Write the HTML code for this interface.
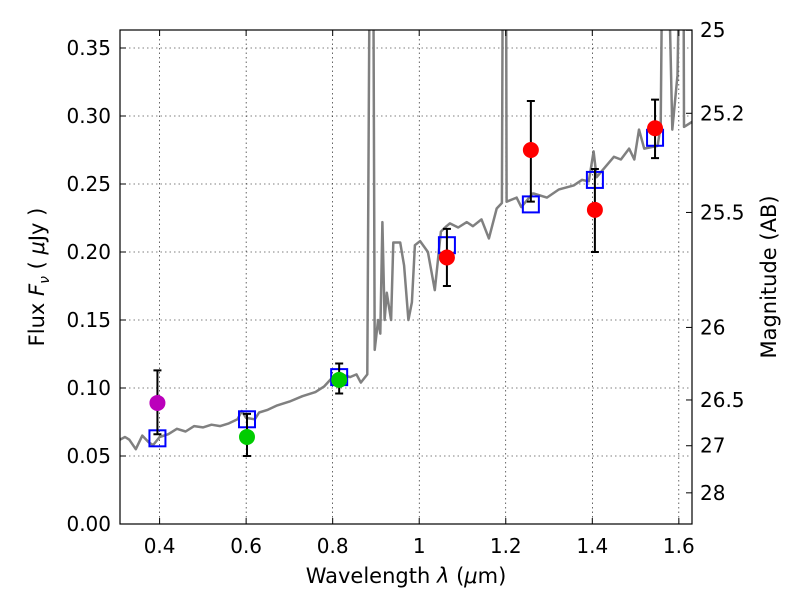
<!DOCTYPE html>
<html><head><meta charset="utf-8"><style>
html,body{margin:0;padding:0;background:#fff;}
svg{display:block;font-family:"DejaVu Sans","Liberation Sans",sans-serif;}
</style></head><body>
<svg id="chart" width="800" height="600" viewBox="0 0 800 600">
<defs><clipPath id="clip"><rect x="120" y="30" width="572" height="494"/></clipPath></defs>
<rect x="0" y="0" width="800" height="600" fill="#fff"/>
<g id="grid"></g>
<g id="plot" clip-path="url(#clip)"></g>
<rect x="120" y="30" width="572" height="494" fill="none" stroke="#000" stroke-width="1.2"/>
<g id="axes"></g>
<text x="406" y="583" font-size="21" text-anchor="middle">Wavelength  <tspan font-style="italic">λ</tspan> (<tspan font-style="italic">μ</tspan>m)</text>
<text transform="translate(44,277) rotate(-90)" font-size="21" text-anchor="middle">Flux  <tspan font-style="italic">F</tspan><tspan font-style="italic" font-size="14" dy="5">ν</tspan><tspan dy="-5">  ( </tspan><tspan font-style="italic">μ</tspan>Jy )</text>
<text transform="translate(776,277) rotate(-90)" font-size="21" text-anchor="middle">Magnitude (AB)</text>
</svg>
<script>
const specWave = [0.3085,0.32,0.33,0.345,0.36,0.375,0.385,0.40,0.42,0.44,0.46,0.48,0.50,0.52,0.54,0.56,0.58,0.59,0.60,0.62,0.63,0.65,0.67,0.70,0.73,0.76,0.78,0.80,0.82,0.84,0.855,0.865,0.880,0.887,0.893,0.897,0.905,0.91,0.915,0.92,0.925,0.93,0.935,0.94,0.956,0.965,0.975,0.983,0.99,1.002,1.02,1.036,1.05,1.063,1.071,1.09,1.11,1.124,1.144,1.161,1.179,1.191,1.194,1.200,1.202,1.225,1.236,1.262,1.264,1.295,1.323,1.357,1.376,1.392,1.403,1.410,1.450,1.466,1.485,1.497,1.508,1.520,1.551,1.558,1.564,1.570,1.585,1.597,1.606,1.610,1.612,1.632];
const specFlux = [0.062,0.064,0.062,0.055,0.065,0.060,0.058,0.064,0.066,0.070,0.068,0.072,0.071,0.073,0.072,0.074,0.077,0.083,0.078,0.077,0.082,0.084,0.087,0.090,0.094,0.097,0.101,0.108,0.110,0.108,0.110,0.104,0.110,0.5,0.5,0.128,0.150,0.140,0.222,0.150,0.170,0.160,0.150,0.207,0.207,0.190,0.150,0.163,0.205,0.208,0.200,0.172,0.215,0.219,0.221,0.218,0.222,0.219,0.224,0.210,0.232,0.236,0.5,0.5,0.237,0.240,0.233,0.243,0.243,0.240,0.246,0.249,0.253,0.252,0.274,0.255,0.270,0.268,0.276,0.268,0.290,0.276,0.278,0.293,0.5,0.5,0.290,0.330,0.5,0.5,0.292,0.296];
const obsWave = [0.395,0.602,0.815,1.064,1.258,1.406,1.545];
const obsFlux = [0.089,0.064,0.106,0.196,0.275,0.231,0.291];
const errHigh = [0.113,0.081,0.118,0.217,0.311,0.261,0.312];
const errLow  = [0.066,0.050,0.096,0.175,0.237,0.200,0.269];
const obsColor = ['#bb00bb','#00cc00','#00cc00','#ff0000','#ff0000','#ff0000','#ff0000'];
const modelFlux = [0.063,0.077,0.108,0.205,0.235,0.253,0.284];
const xTicks = [0.4,0.6,0.8,1.0,1.2,1.4,1.6];
const xTickLabels = ['0.4','0.6','0.8','1','1.2','1.4','1.6'];
const yTicks = [0,0.05,0.10,0.15,0.20,0.25,0.30,0.35];
const yTickLabels = ['0.00','0.05','0.10','0.15','0.20','0.25','0.30','0.35'];
const magTicks = [25,25.2,25.5,26,26.5,27,28];
const magTickLabels = ['25','25.2','25.5','26','26.5','27','28'];

const NS='http://www.w3.org/2000/svg';
function X(l){return 159.6+(l-0.4)*432.7;}
function Y(f){return 524-f*1360;}
function mk(tag,attrs,parent){const e=document.createElementNS(NS,tag);for(const k in attrs)e.setAttribute(k,attrs[k]);parent.appendChild(e);return e;}
const grid=document.getElementById('grid'),plot=document.getElementById('plot'),axes=document.getElementById('axes');

xTicks.forEach((t,i)=>{
  const x=X(t);
  const g=mk('line',{x1:x,x2:x,y1:30,y2:524,stroke:'#000','stroke-width':0.6,'stroke-dasharray':'1.5,3'},grid);
  
  
  const tk=mk('path',{d:`M${x},524v-6M${x},30v6`,stroke:'#000','stroke-width':1},axes);
  
  
  const lb=mk('text',{x:x,y:553,'font-size':20,'text-anchor':'middle'},axes);
  lb.textContent=xTickLabels[i];
  
  
});
yTicks.forEach((t,i)=>{
  const y=Y(t);
  if(t>0){
    const g=mk('line',{x1:120,x2:692,y1:y,y2:y,stroke:'#000','stroke-width':0.6,'stroke-dasharray':'1.5,3'},grid);
    
    
  }
  const tk=mk('path',{d:`M120,${y}h6`,stroke:'#000','stroke-width':1},axes);
  
  
  const lb=mk('text',{x:111,y:y+7,'font-size':20,'text-anchor':'end'},axes);
  lb.textContent=yTickLabels[i];
  
  
});
magTicks.forEach((m,i)=>{
  const y=Y(Math.pow(10,-(m-23.9)/2.5));
  const tk=mk('path',{d:`M692,${y}h-6`,stroke:'#000','stroke-width':1},axes);
  
  
  const lb=mk('text',{x:700,y:y+7,'font-size':20},axes);
  lb.textContent=magTickLabels[i];
  
  
});

const d=specWave.map((w,i)=>(i?'L':'M')+X(w).toFixed(1)+','+Y(specFlux[i]).toFixed(1)).join('');
const sp=mk('path',{d:d,fill:'none',stroke:'#808080','stroke-width':2.5,'stroke-linejoin':'round'},plot);



obsWave.forEach((w,i)=>{
  const x=X(w);
  const sq=mk('rect',{x:x-8,y:Y(modelFlux[i])-8,width:16,height:16,fill:'none',stroke:'#0000ff','stroke-width':2},plot);
  
  
  const yh=Y(errHigh[i]),yl=Y(errLow[i]);
  const eb=mk('path',{d:`M${x},${yh}V${yl}M${x-4},${yh}h8M${x-4},${yl}h8`,stroke:'#000','stroke-width':2},plot);
  
  
  const c=mk('circle',{cx:x,cy:Y(obsFlux[i]),r:8,fill:obsColor[i]},plot);
  
  
});
</script>
</body></html>
